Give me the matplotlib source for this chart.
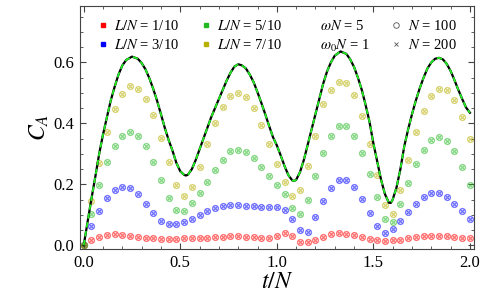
import matplotlib.pyplot as plt
from matplotlib.lines import Line2D
from matplotlib.ticker import MultipleLocator
from matplotlib.colors import to_rgba

plt.rcParams['font.family'] = ['Liberation Serif', 'DejaVu Serif']
plt.rcParams['mathtext.fontset'] = 'stix'

# sample times of the numerical points (step 0.04)
t_pts = [round(0.04 * i, 2) for i in range(51)]

ca_1 = [0.0, 0.018, 0.028, 0.034, 0.036, 0.034, 0.032, 0.028, 0.025, 0.024,
        0.022, 0.021, 0.022, 0.023, 0.024, 0.024, 0.025, 0.026, 0.028, 0.029,
        0.029, 0.028, 0.026, 0.024, 0.024, 0.029, 0.039, 0.029, 0.011, 0.010,
        0.019, 0.028, 0.036, 0.040, 0.038, 0.033, 0.026, 0.020, 0.017, 0.015,
        0.017, 0.019, 0.025, 0.028, 0.031, 0.032, 0.032, 0.031, 0.027, 0.025,
        0.025]
ca_3 = [0.0, 0.062, 0.114, 0.155, 0.180, 0.192, 0.189, 0.168, 0.136, 0.106,
        0.081, 0.070, 0.070, 0.076, 0.085, 0.098, 0.111, 0.121, 0.128, 0.132,
        0.132, 0.130, 0.128, 0.127, 0.127, 0.127, 0.116, 0.087, 0.049, 0.043,
        0.092, 0.144, 0.187, 0.213, 0.214, 0.191, 0.151, 0.106, 0.065, 0.042,
        0.053, 0.079, 0.108, 0.135, 0.158, 0.173, 0.173, 0.160, 0.137, 0.113,
        0.087]
ca_5 = [0.0, 0.104, 0.198, 0.272, 0.325, 0.360, 0.372, 0.360, 0.325, 0.274,
        0.214, 0.156, 0.115, 0.112, 0.138, 0.171, 0.207, 0.247, 0.280, 0.308,
        0.314, 0.307, 0.285, 0.258, 0.228, 0.197, 0.168, 0.122, 0.102, 0.148,
        0.226, 0.302, 0.360, 0.391, 0.390, 0.357, 0.302, 0.234, 0.157, 0.087,
        0.078, 0.137, 0.206, 0.267, 0.313, 0.344, 0.354, 0.343, 0.308, 0.256,
        0.199]
ca_7 = [0.0, 0.144, 0.270, 0.372, 0.448, 0.498, 0.521, 0.513, 0.480, 0.426,
        0.352, 0.273, 0.199, 0.163, 0.191, 0.256, 0.332, 0.401, 0.455, 0.490,
        0.501, 0.487, 0.450, 0.395, 0.332, 0.266, 0.209, 0.163, 0.180, 0.261,
        0.359, 0.462, 0.508, 0.537, 0.534, 0.493, 0.425, 0.334, 0.231, 0.131,
        0.104, 0.182, 0.280, 0.372, 0.442, 0.491, 0.513, 0.508, 0.477, 0.422,
        0.350]

# continuum curve
t_line = [0.0, 0.02, 0.04, 0.06, 0.08, 0.10, 0.12, 0.14, 0.16, 0.18, 0.20, 0.22,
          0.25, 0.28, 0.30, 0.32, 0.34, 0.36, 0.38, 0.40, 0.42, 0.44, 0.46, 0.48,
          0.50, 0.52, 0.53, 0.54, 0.56, 0.58, 0.60, 0.62, 0.64, 0.66, 0.68, 0.70,
          0.72, 0.74, 0.76, 0.78, 0.80, 0.82, 0.84, 0.86, 0.88, 0.90, 0.92, 0.94,
          0.96, 0.98, 1.00, 1.02, 1.04, 1.06, 1.08, 1.09, 1.10, 1.12, 1.14, 1.16,
          1.18, 1.20, 1.22, 1.24, 1.26, 1.28, 1.30, 1.33, 1.36, 1.38, 1.40, 1.42,
          1.44, 1.46, 1.48, 1.50, 1.52, 1.54, 1.56, 1.58, 1.59, 1.60, 1.62, 1.64,
          1.66, 1.68, 1.70, 1.72, 1.74, 1.76, 1.78, 1.80, 1.82, 1.84, 1.86, 1.88,
          1.90, 1.92, 1.94, 1.96, 1.98, 2.00]
ca_line = [0.0, 0.077, 0.153, 0.225, 0.300, 0.364, 0.420, 0.475, 0.520, 0.560,
           0.590, 0.608, 0.619, 0.612, 0.598, 0.577, 0.548, 0.513, 0.474, 0.430,
           0.385, 0.345, 0.310, 0.270, 0.243, 0.231, 0.229, 0.232, 0.250, 0.280,
           0.315, 0.350, 0.385, 0.420, 0.450, 0.480, 0.510, 0.540, 0.566, 0.586,
           0.594, 0.590, 0.580, 0.560, 0.535, 0.502, 0.467, 0.430, 0.392, 0.355,
           0.328, 0.295, 0.260, 0.230, 0.213, 0.211, 0.215, 0.240, 0.280, 0.330,
           0.380, 0.430, 0.480, 0.530, 0.570, 0.600, 0.622, 0.636, 0.628, 0.610,
           0.585, 0.550, 0.510, 0.460, 0.405, 0.335, 0.275, 0.215, 0.168, 0.140,
           0.139, 0.150, 0.190, 0.250, 0.325, 0.380, 0.430, 0.475, 0.515, 0.550,
           0.580, 0.600, 0.612, 0.615, 0.610, 0.595, 0.572, 0.542, 0.510, 0.480,
           0.452, 0.435]

series = [(ca_1, 'red'), (ca_3, 'blue'), (ca_5, '#22b822'), (ca_7, '#b8b000')]

fig = plt.figure(figsize=(4.93, 3.0), dpi=100)
ax = fig.add_axes([0.162, 0.17, 0.799, 0.81])

ax.plot(t_line, ca_line, '-', c='black', lw=1.6, zorder=3)
ax.plot(t_line, ca_line, '--', c='#22ee22', lw=1.3, dashes=(3, 2), zorder=4)

for vals, col in series:
    ax.scatter(t_pts, vals, s=19, facecolors=to_rgba(col, 0.15),
               edgecolors=to_rgba(col, 0.5), linewidths=0.8, zorder=2)
    ax.scatter(t_pts, vals, s=8, marker='x', c=col, linewidths=0.8,
               alpha=0.5, zorder=2)

ax.set_xlim(-0.02, 2.02)
ax.set_ylim(-0.012, 0.785)
ax.xaxis.set_major_locator(MultipleLocator(0.5))
ax.xaxis.set_minor_locator(MultipleLocator(0.1))
ax.yaxis.set_major_locator(MultipleLocator(0.2))
ax.yaxis.set_minor_locator(MultipleLocator(0.05))
ax.xaxis.set_major_formatter(lambda v, p: f'{v:.1f}')
ax.yaxis.set_major_formatter(lambda v, p: f'{v:.1f}')
ax.tick_params(which='both', direction='in', top=True, right=True,
               labelsize=12, color='#444444', pad=4)
ax.tick_params(which='major', length=4)
ax.tick_params(which='minor', length=2.5)
for sp in ax.spines.values():
    sp.set_color('#444444')

ax.set_xlabel('$t/N$', fontsize=17, labelpad=1)
ax.set_ylabel('$C_A$', fontsize=17, labelpad=2)

blank = Line2D([], [], linestyle='none')
handles = [
    Line2D([], [], ls='none', marker='s', ms=3, c='red'),
    Line2D([], [], ls='none', marker='s', ms=3, c='blue'),
    Line2D([], [], ls='none', marker='s', ms=3, c='#22b822'),
    Line2D([], [], ls='none', marker='s', ms=3, c='#b8b000'),
    blank, blank,
    Line2D([], [], ls='none', marker='o', ms=4, mfc='none', mec='#555555', mew=0.6),
    Line2D([], [], ls='none', marker='x', ms=3, c='#555555', mew=0.6),
]
labels = ['$L/N$ = 1/10', '$L/N$ = 3/10', '$L/N$ = 5/10', '$L/N$ = 7/10',
          r'$\omega N$ = 5', r'$\omega_0 N$ = 1', '$N$ = 100', '$N$ = 200']
ax.legend(handles, labels, ncol=4, loc='upper center', frameon=False,
          fontsize=10.5, handlelength=0.8, handletextpad=0.4,
          columnspacing=1.4, labelspacing=0.35, borderaxespad=0.5)

plt.savefig('out.png', dpi=100)
